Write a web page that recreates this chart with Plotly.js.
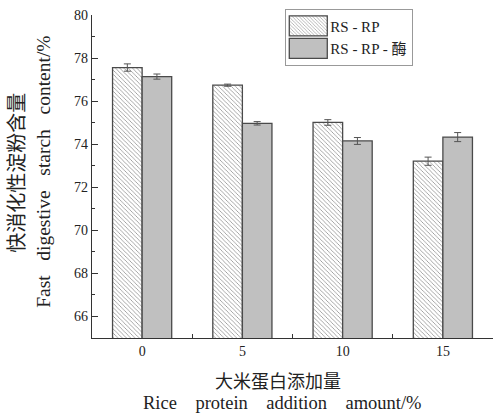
<!DOCTYPE html>
<html>
<head>
<meta charset="utf-8">
<script src="https://cdn.plot.ly/plotly-3.0.1.min.js"></script>
<style>html,body{margin:0;padding:0;background:#fff;}</style>
</head>
<body>
<div id="chart" style="width:493px;height:415px;"></div>
<script>
var categories = ['0', '5', '10', '15'];
var seriesNames = ['RS - RP', 'RS - RP - 酶'];
var rsRP = [77.56, 76.74, 75.01, 73.21];
var rsRPErr = [0.17, 0.05, 0.13, 0.19];
var rsRPEnzyme = [77.14, 74.97, 74.15, 74.33];
var rsRPEnzymeErr = [0.12, 0.08, 0.16, 0.21];
var yTicks = [66, 68, 70, 72, 74, 76, 78, 80];

var xTitleCN = '大米蛋白添加量';
var xTitleEN = 'Rice protein addition amount/%';
var yTitleCN = '快消化性淀粉含量';
var yTitleEN = 'Fast digestive starch content/%';

var serif = '"Liberation Serif", "Times New Roman", "Noto Sans CJK SC", serif';
var cjk = '"Noto Sans CJK SC", sans-serif';
function widen(s, n) { return s.split(' ').join('\u00a0'.repeat(n)); }

var traces = [
  {
    type: 'bar', name: seriesNames[0], x: categories, y: rsRP,
    error_y: {type: 'data', array: rsRPErr, visible: true, color: '#555', thickness: 1, width: 3.5},
    marker: {
      color: '#ffffff',
      pattern: {shape: '\\', size: 3, solidity: 0.25, fgcolor: '#8a8a8a', bgcolor: '#ffffff', fillmode: 'replace'},
      line: {color: '#4a4a4a', width: 1.3}
    }
  },
  {
    type: 'bar', name: seriesNames[1], x: categories, y: rsRPEnzyme,
    error_y: {type: 'data', array: rsRPEnzymeErr, visible: true, color: '#555', thickness: 1, width: 3.5},
    marker: {color: '#c0c0c0', line: {color: '#4a4a4a', width: 1.3}}
  }
];

var layout = {
  width: 493, height: 415,
  margin: {l: 92, r: 0, t: 15, b: 77},
  paper_bgcolor: '#fff', plot_bgcolor: '#fff',
  barmode: 'group', bargap: 0.41, bargroupgap: 0,
  font: {family: serif, color: '#222', size: 14},
  showlegend: true,
  legend: {
    x: 0.482, y: 1.02, xanchor: 'left', yanchor: 'top',
    bordercolor: '#999', borderwidth: 1, bgcolor: '#fff',
    font: {family: serif, size: 15, color: '#222'},
    itemwidth: 34, tracegroupgap: 0
  },
  xaxis: {
    type: 'category', categoryorder: 'array', categoryarray: categories,
    range: [-0.5, 3.5],
    showline: true, linecolor: '#333', linewidth: 1.2,
    ticks: 'inside', tickson: 'boundaries', ticklen: 4, tickcolor: '#333', tickwidth: 1,
    showgrid: false, zeroline: false,
    tickfont: {family: serif, size: 14, color: '#222'}
  },
  yaxis: {
    range: [65, 80], tickvals: yTicks, ticktext: yTicks.map(String),
    showline: true, linecolor: '#333', linewidth: 1.2,
    ticks: 'inside', ticklen: 6, tickcolor: '#333', tickwidth: 1,
    minor: {dtick: 1, ticks: 'inside', ticklen: 3, tickcolor: '#333', showgrid: false},
    showgrid: false, zeroline: false,
    tickfont: {family: serif, size: 14, color: '#222'}
  },
  annotations: [
    {text: xTitleCN, xref: 'paper', yref: 'paper', x: 0.465, y: -0.13, xanchor: 'center', yanchor: 'middle',
     showarrow: false, font: {family: cjk, size: 18, color: '#222'}},
    {text: widen(xTitleEN, 4), xref: 'paper', yref: 'paper', x: 0.475, y: -0.201, xanchor: 'center', yanchor: 'middle',
     showarrow: false, font: {family: serif, size: 18.5, color: '#222'}},
    {text: yTitleCN, xref: 'paper', yref: 'paper', x: -0.19, y: 0.511, xanchor: 'center', yanchor: 'middle',
     textangle: -90, showarrow: false, font: {family: cjk, size: 20, color: '#222'}},
    {text: widen(yTitleEN, 3), xref: 'paper', yref: 'paper', x: -0.12, y: 0.514, xanchor: 'center', yanchor: 'middle',
     textangle: -90, showarrow: false, font: {family: serif, size: 19.5, color: '#222'}}
  ]
};

Plotly.newPlot('chart', traces, layout, {displayModeBar: false, staticPlot: true}).then(function () {
  var pts = document.querySelectorAll('.legend .legendpoints path');
  pts.forEach(function (p) { p.setAttribute('d', 'M19,10H-19V-10H19Z'); });
});
</script>
</body>
</html>
